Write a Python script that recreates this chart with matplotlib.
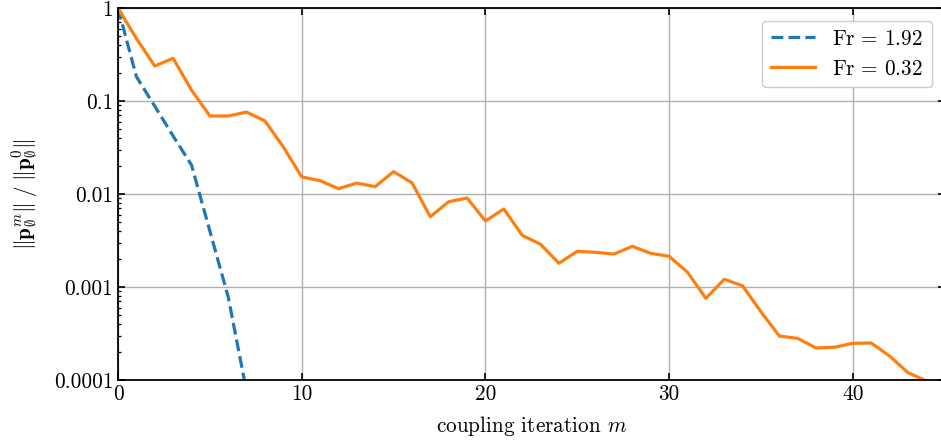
import numpy as np
import matplotlib
matplotlib.use("Agg")
import matplotlib.pyplot as plt
import matplotlib.ticker as ticker

# --- Data: pressure residual per coupling iteration ---
iter_fast = [0, 1, 2, 3, 4, 5, 6, 7]
res_fast = [1.0, 0.183, 0.088, 0.042, 0.0205, 0.004, 0.00078, 0.000075]

iter_slow = list(range(45))
res_slow = [1.0, 0.47, 0.238, 0.288, 0.131, 0.069, 0.069, 0.076, 0.061, 0.032,
            0.0153, 0.0139, 0.0114, 0.0131, 0.0120, 0.0174, 0.0132, 0.0057, 0.00826, 0.00906,
            0.00513, 0.0069, 0.0036, 0.00288, 0.0018, 0.00242, 0.00236, 0.00226, 0.00274, 0.0023,
            0.00214, 0.00144, 0.000756, 0.00121, 0.00103, 0.00054, 0.000297, 0.00028, 0.000221, 0.000225,
            0.000248, 0.00025, 0.000181, 0.00012, 0.0000975]

labels = [r'$\mathrm{Fr}\,=\,1.92$', r'$\mathrm{Fr}\,=\,0.32$']
y_ticks = [1e-4, 1e-3, 1e-2, 1e-1, 1]
x_ticks = [0, 10, 20, 30, 40]

plt.rcParams['font.family'] = ['cmr10', 'DejaVu Serif']
plt.rcParams['mathtext.fontset'] = 'cm'
plt.rcParams['axes.unicode_minus'] = False
plt.rcParams['font.size'] = 15.3

fig = plt.figure(figsize=(9.41, 4.42), dpi=100)
ax = fig.add_axes([118 / 941, 1 - 380 / 442, 826.7 / 941, 372 / 442])

ax.plot(iter_fast, res_fast, color='#1f77b4', linestyle='--', linewidth=2.3, label=labels[0])
ax.plot(iter_slow, res_slow, color='#ff7f0e', linestyle='-', linewidth=2.3, label=labels[1])

ax.set_yscale('log')
ax.set_xlim(0, 45)
ax.set_ylim(1e-4, 1)
ax.set_xticks(x_ticks)
ax.set_yticks(y_ticks)
ax.yaxis.set_major_formatter(ticker.FuncFormatter(lambda v, p: f'{v:g}'))
ax.xaxis.set_major_formatter(ticker.FuncFormatter(lambda v, p: f'{v:g}'))

ax.grid(True, which='major', color='#b0b0b0', linewidth=1.0)
ax.tick_params(which='both', direction='in', top=True, right=True)
ax.tick_params(which='major', length=5, width=1.2)
ax.tick_params(which='minor', length=2.5, width=0.9)
for s in ax.spines.values():
    s.set_linewidth(1.3)

ax.set_xlabel(r'coupling iteration $m$', labelpad=7)
ax.set_ylabel(r'$\|\mathbf{p}_\emptyset^m\|\;/\;\|\mathbf{p}_\emptyset^0\|$', labelpad=9)

ax.legend(loc='upper right', fancybox=True, framealpha=1.0, edgecolor='#cccccc',
          handlelength=2.1, borderaxespad=0.6)

fig.savefig('out.png', dpi=100)
